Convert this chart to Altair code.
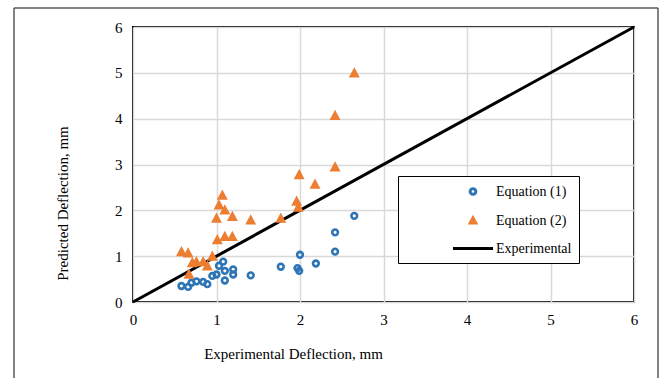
import altair as alt
import pandas as pd

# Equation (1) predictions
eq1_x = [0.58, 0.66, 0.70, 0.76, 0.84, 0.89, 0.95, 1.00, 1.03, 1.08, 1.10, 1.10,
         1.20, 1.20, 1.41, 1.77, 1.97, 1.99, 2.00, 2.19, 2.42, 2.42, 2.65]
eq1_y = [0.35, 0.33, 0.42, 0.45, 0.44, 0.39, 0.57, 0.60, 0.79, 0.88, 0.68, 0.47,
         0.71, 0.60, 0.58, 0.77, 0.74, 0.68, 1.03, 0.84, 1.10, 1.52, 1.88]

# Equation (2) predictions
eq2_x = [0.58, 0.66, 0.67, 0.71, 0.76, 0.84, 0.89, 0.95, 1.01, 1.00, 1.03, 1.07,
         1.10, 1.10, 1.19, 1.19, 1.41, 1.77, 1.96, 1.98, 1.99, 2.18, 2.42, 2.42, 2.65]
eq2_y = [1.08, 1.05, 0.59, 0.84, 0.86, 0.86, 0.77, 0.98, 1.34, 1.81, 2.10, 2.31,
         1.99, 1.41, 1.85, 1.41, 1.77, 1.81, 2.18, 2.05, 2.76, 2.55, 2.93, 4.05, 4.98]

# Experimental (line of equality)
exp_x = [0, 6]
exp_y = [0, 6]

series = ["Equation (1)", "Equation (2)", "Experimental"]
colors = ["#2E75B6", "#ED7D31", "#000000"]
# symbol paths (unit = 7 px at the common symbol size 196)
CIRCLE = "M-0.41,0A0.41,0.41,0,1,1,0.41,0A0.41,0.41,0,1,1,-0.41,0Z"
TRIANGLE = "M0,-0.45L0.4,0.3L-0.4,0.3Z"
LINE = "M-2.86,0L2.86,0"
shapes = [CIRCLE, TRIANGLE, LINE]
SYM = 196

eq1_df = pd.DataFrame({"x": eq1_x, "y": eq1_y, "s": series[0]})
eq2_df = pd.DataFrame({"x": eq2_x, "y": eq2_y, "s": series[1]})
line_df = pd.DataFrame({"x": exp_x, "y": exp_y, "s": series[2]})

FONT = "Liberation Serif"

xenc = alt.X("x:Q", scale=alt.Scale(domain=[0, 6], nice=False),
             axis=alt.Axis(values=[0, 1, 2, 3, 4, 5, 6], title="Experimental Deflection, mm",
                           labelFont=FONT, titleFont=FONT,
                           titleX=160, titleY=51, titleAlign="center", titleBaseline="middle"))
yenc = alt.Y("y:Q", scale=alt.Scale(domain=[0, 6], nice=False),
             axis=alt.Axis(values=[0, 1, 2, 3, 4, 5, 6], title="Predicted Deflection, mm",
                           labelFont=FONT, titleFont=FONT,
                           titleX=-71, titleY=176, titleAngle=-90, titleAlign="center",
                           titleBaseline="middle"))

legend = alt.Legend(title=None, orient="none", legendX=265, legendY=149,
                    padding=7, symbolOffset=59.5, labelOffset=14.5,
                    rowPadding=10.5, fillColor="white", strokeColor="black",
                    labelFont=FONT, labelFontSize=14, labelColor="black",
                    symbolStrokeWidth=3, symbolSize=SYM)

color = alt.Color("s:N", scale=alt.Scale(domain=series, range=colors), legend=legend)
shape = alt.Shape("s:N", scale=alt.Scale(domain=series, range=shapes), legend=legend)

line = alt.Chart(line_df).mark_line(strokeWidth=3).encode(x=xenc, y=yenc, color=color)
circles = alt.Chart(eq1_df).mark_point(filled=False, strokeWidth=2.6, opacity=1, size=SYM).encode(
    x=xenc, y=yenc, color=color, shape=shape)
triangles = alt.Chart(eq2_df).mark_point(filled=False, strokeWidth=3.2, opacity=1, size=SYM).encode(
    x=xenc, y=yenc, color=color, shape=shape)

frame_data = alt.Data(values=[{"a": 1}])
frame_l = alt.Chart(frame_data).mark_rule(color="#595959", strokeWidth=1.5).encode(
    x=alt.value(-119), y=alt.value(-19), y2=alt.value(360))
frame_r = alt.Chart(frame_data).mark_rule(color="#595959", strokeWidth=1.5).encode(
    x=alt.value(525), y=alt.value(-19), y2=alt.value(360))
frame_t = alt.Chart(frame_data).mark_rule(color="#595959", strokeWidth=1.5).encode(
    x=alt.value(-119), x2=alt.value(525), y=alt.value(-19))

chart = alt.layer(frame_l, frame_r, frame_t, line, circles, triangles).properties(
    width=501, height=275,
    autosize=alt.AutoSizeParams(type="none"),
    padding={"left": 133, "top": 27, "right": 27, "bottom": 76},
    background="white",
).configure_view(stroke="black", strokeWidth=2).configure_axis(
    domain=False, ticks=False, grid=True, gridColor="#d9d9d9", gridWidth=1.5,
    labelFont=FONT, labelFontSize=15, labelColor="black", labelPadding=10,
    titleFont=FONT, titleFontSize=15, titleColor="black", titleFontWeight="normal",
    labelFlush=False,
).configure_axisY(labelPadding=11)

chart.save("out.html", embed_options={"renderer": "svg", "actions": False})
